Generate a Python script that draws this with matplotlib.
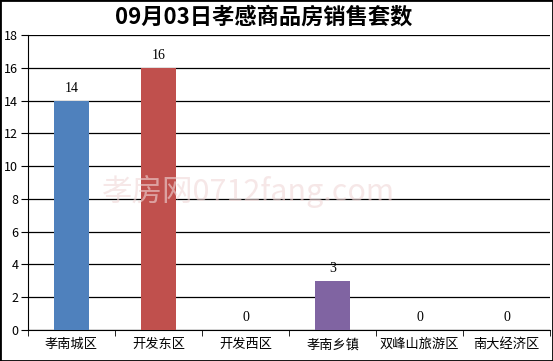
import matplotlib
matplotlib.use("Agg")
import matplotlib.pyplot as plt
import numpy as np

plt.rcParams['font.family'] = ['Noto Sans CJK SC', 'DejaVu Sans']

title = "09月03日孝感商品房销售套数"
districts = ["孝南城区", "开发东区", "开发西区", "孝南乡镇", "双峰山旅游区", "南大经济区"]
sales = [14, 16, 0, 3, 0, 0]
colors = ["#4F81BD", "#C0504D", "#9BBB59", "#8064A2", "#4BACC6", "#F79646"]
yticks = [0, 2, 4, 6, 8, 10, 12, 14, 16, 18]

fig = plt.figure(figsize=(5.53, 3.61), dpi=100)
ax = fig.add_axes([0.0506, 0.0859, 0.9444, 0.817])

x = np.arange(len(districts))
ax.bar(x, sales, width=0.4, color=colors, zorder=3)

for xi, v in zip(x, sales):
    ax.text(xi, v + 0.35, str(v), ha='center', va='bottom', fontsize=10,
            family='Liberation Serif', zorder=4)

ax.set_xlim(-0.5, len(districts) - 0.5)
ax.set_ylim(0, 18)
ax.set_yticks(yticks)
ax.set_yticklabels([str(t) for t in yticks], fontsize=9)
ax.yaxis.grid(True, color='black', linewidth=0.9, zorder=1)

ax.set_xticks(x)
ax.set_xticklabels(districts, fontsize=9.5)
ax.set_xticks(np.arange(len(districts) + 1) - 0.5, minor=True)
ax.tick_params(axis='x', which='major', length=0, pad=6)
ax.tick_params(axis='x', which='minor', length=4, direction='out', color='black')
ax.tick_params(axis='y', length=5, direction='out', color='black', pad=2)

ax.spines['top'].set_visible(False)
ax.spines['right'].set_visible(False)
ax.spines['left'].set_color('black')
ax.spines['bottom'].set_color('black')

# faint watermark
fig.text(0.45, 0.47, "孝房网0712fang.com", fontsize=22, color='#f0d8d8',
         alpha=0.6, ha='center', va='center', zorder=0)

fig.text(0.477, 0.953, title, ha='center', va='center', fontsize=16, fontweight='bold')

# outer border
fig.patches.append(plt.Rectangle((0, 0), 1, 1, transform=fig.transFigure,
                                 fill=False, edgecolor='black', linewidth=2))

fig.savefig("out.png", dpi=100)
